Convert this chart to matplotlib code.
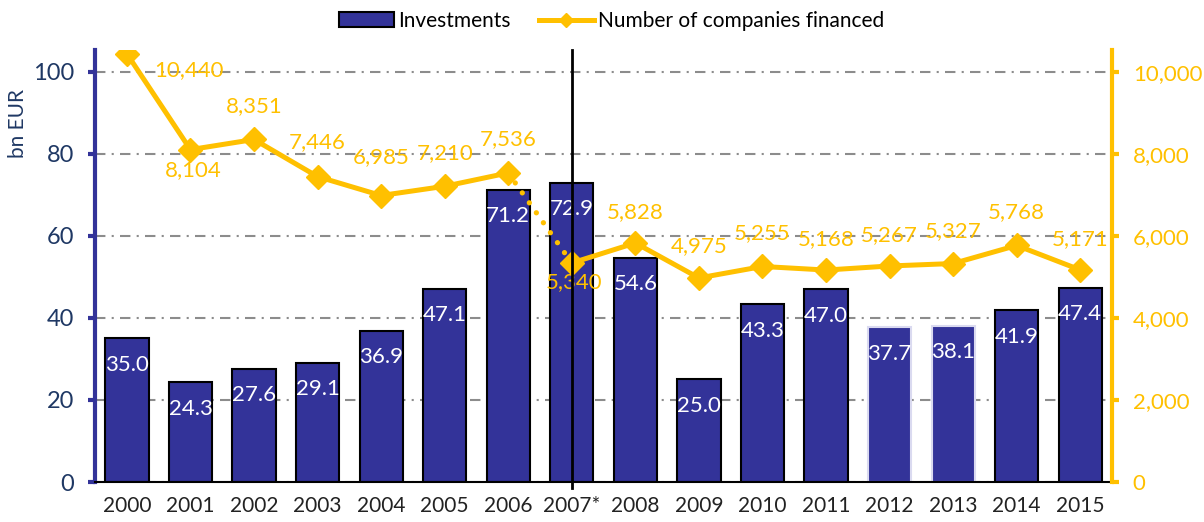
import matplotlib
matplotlib.use("Agg")
import matplotlib.pyplot as plt
from matplotlib.lines import Line2D
from matplotlib.patches import Patch
import numpy as np

years = ["2000", "2001", "2002", "2003", "2004", "2005", "2006", "2007*",
         "2008", "2009", "2010", "2011", "2012", "2013", "2014", "2015"]
investments = [35.0, 24.3, 27.6, 29.1, 36.9, 47.1, 71.2, 72.9,
               54.6, 25.0, 43.3, 47.0, 37.7, 38.1, 41.9, 47.4]
companies = [10440, 8104, 8351, 7446, 6985, 7210, 7536, 5340,
             5828, 4975, 5255, 5168, 5267, 5327, 5768, 5171]

# label offsets for the line values (points)
comp_offsets = [(45, -12), (2, -15), (0, 24), (0, 25), (0, 28), (0, 24), (0, 24), (2, -14),
                (0, 22), (0, 23), (0, 24), (0, 22), (0, 22), (0, 23), (0, 24), (0, 22)]

BLUE = "#333399"
YELLOW = "#FFC000"
NAVY = "#1F3864"

plt.rcParams["font.family"] = ["Lato", "DejaVu Sans"]

fig = plt.figure(figsize=(12.04, 5.22), dpi=100)
ax = fig.add_axes([0.079, 0.0766, 0.8446, 0.8274])
ax2 = ax.twinx()

x = np.arange(len(years))
edges = ["black"] * len(years)
edges[12] = "#DADAF0"
edges[13] = "#DADAF0"
bars = ax.bar(x, investments, width=0.68, color=BLUE, edgecolor=edges, linewidth=1.5, zorder=2)

for xi, v in zip(x, investments):
    ax.annotate(f"{v:.1f}", (xi, v), xytext=(0, -19), textcoords="offset points",
                ha="center", va="center", color="white", fontsize=16, zorder=3)

ax.set_xlim(-0.5, len(years) - 0.5)
ax.set_ylim(0, 105.3)
ax.set_yticks(np.arange(0, 101, 20))
ax.yaxis.grid(True, color="#8C8C8C", linewidth=1.5, linestyle=(0, (5, 3, 1, 3)), zorder=0)
ax.set_axisbelow(True)
ax.set_xticks(x)
ax.set_xticklabels(years)
ax.tick_params(axis="x", length=0, pad=10, labelsize=15, labelcolor="#222222")
ax.tick_params(axis="y", length=5, width=3, color=BLUE, pad=10, labelsize=17, labelcolor=NAVY)
ax.set_ylabel("bn EUR", fontsize=15, color=NAVY)
ax.yaxis.set_label_coords(-0.066, 0.83)

for s in ["top", "right"]:
    ax.spines[s].set_visible(False)
ax.spines["left"].set_color(BLUE)
ax.spines["left"].set_linewidth(3)
ax.spines["bottom"].set_color("black")
ax.spines["bottom"].set_linewidth(1.5)

# companies line: solid up to 2006, dotted 2006-2007, solid from 2007
ax2.plot(x[:7], companies[:7], color=YELLOW, linewidth=3.6, marker="D", markersize=12, zorder=4)
ax2.plot(x[7:], companies[7:], color=YELLOW, linewidth=3.6, marker="D", markersize=12, zorder=4)
ax2.plot(x[6:8], companies[6:8], color=YELLOW, linewidth=3.8, linestyle=(0, (0.01, 2.3)),
         dash_capstyle="round", zorder=4)

for xi, v, off in zip(x, companies, comp_offsets):
    ax2.annotate(f"{v:,}", (xi, v), xytext=off, textcoords="offset points",
                 ha="center", va="center", color=YELLOW, fontsize=16, zorder=5)

ax2.set_ylim(0, 10530)
ax2.set_yticks(np.arange(0, 10001, 2000))
ax2.set_yticklabels([f"{t:,}" for t in range(0, 10001, 2000)])
ax2.tick_params(axis="y", length=5, width=3, color=YELLOW, pad=10, labelsize=16, labelcolor=YELLOW)
for s in ["top", "left", "bottom"]:
    ax2.spines[s].set_visible(False)
ax2.spines["right"].set_color(YELLOW)
ax2.spines["right"].set_linewidth(3)

ax2.axvline(7, ymin=-0.015, ymax=1, color="black", linewidth=2, clip_on=False, zorder=6)

handles = [Patch(facecolor=BLUE, edgecolor="black", linewidth=1.5),
           Line2D([0], [0], color=YELLOW, linewidth=3.6, marker="D", markersize=7)]
fig.legend(handles, ["Investments", "Number of companies financed"], loc="upper center",
           bbox_to_anchor=(0.508, 1.015), ncol=2, frameon=False, fontsize=15,
           handlelength=2.6, handletextpad=0.2, columnspacing=1.4)

fig.savefig("out.png", dpi=100)
